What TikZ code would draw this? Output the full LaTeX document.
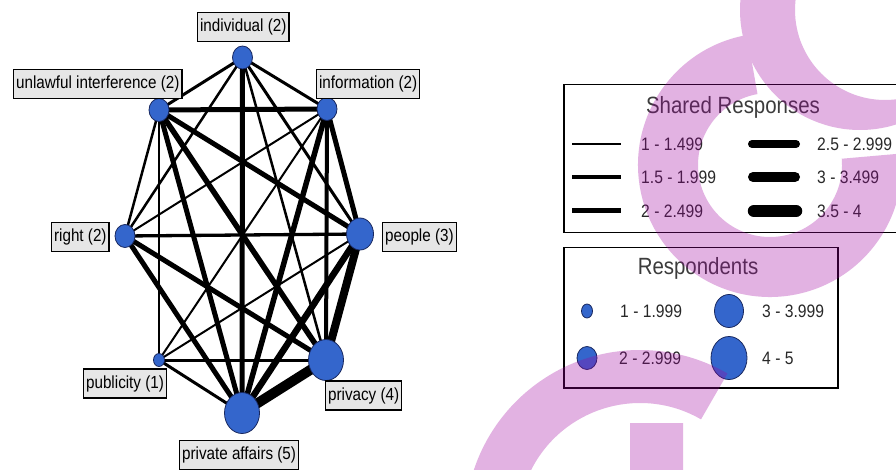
\documentclass[tikz,border=0pt]{standalone}
\usepackage{fontspec}
\setmainfont{Liberation Sans}[FakeStretch=0.87]
\usetikzlibrary{shapes.geometric}
\pgfdeclarelayer{edges}
\pgfsetlayers{edges,main}
\definecolor{nodeblue}{RGB}{52,102,204}
\definecolor{nodeedge}{RGB}{25,40,95}
\definecolor{labelfill}{RGB}{230,230,230}
\definecolor{titlegray}{RGB}{60,60,60}
\definecolor{legtext}{RGB}{40,40,40}
\definecolor{wmcolor}{RGB}{160,0,160}
\tikzset{
  lbl/.style={draw=black, line width=1.2pt, fill=labelfill, anchor=west,
    font=\fontsize{17.5}{20}\selectfont, inner xsep=2.5pt, inner ysep=0pt,
    minimum height=29pt},
  vtx/.style={ellipse, draw=nodeedge, line width=0.8pt, fill=nodeblue, inner sep=0pt},
  v1/.style={vtx, minimum width=11pt, minimum height=13pt},
  v2/.style={vtx, minimum width=20pt, minimum height=23pt},
  v3/.style={vtx, minimum width=27pt, minimum height=32pt},
  v4/.style={vtx, minimum width=35pt, minimum height=41pt},
  legbox/.style={draw=black, line width=1.5pt, anchor=north west, inner sep=0pt},
  legtitle/.style={font=\fontsize{23.5}{26}\selectfont, text=titlegray, inner sep=0pt},
  legtxt/.style={font=\fontsize{18}{20}\selectfont, text=legtext, anchor=west, inner sep=0pt},
  tie/.style={draw=black, line width=#1},
}
\begin{document}
\begin{tikzpicture}[x=1pt,y=-1pt]
\useasboundingbox (0,0) rectangle (896,470);

% ---- network vertices ----
\node[v2] (ind) at (242.5,57.5) {};
\node[v2] (unl) at (159,110) {};
\node[v2] (inf) at (327,109) {};
\node[v2] (rgt) at (125,236) {};
\node[v3] (ppl) at (360,234) {};
\node[v1] (pub) at (159,360) {};
\node[v4] (prv) at (326,360) {};
\node[v4] (aff) at (242,413) {};

% ---- ties, weighted by shared responses ----
\begin{pgfonlayer}{edges}
\fill[white] (0,0) rectangle (896,470);
\draw[tie=3pt]   (ind.center) -- (unl.center);
\draw[tie=3pt]   (ind.center) -- (inf.center);
\draw[tie=2.5pt] (ind.center) -- (rgt.center);
\draw[tie=3pt]   (ind.center) -- (ppl.center);
\draw[tie=2.5pt] (ind.center) -- (prv.center);
\draw[tie=5pt]   (ind.center) -- (aff.center);
\draw[tie=5pt]   (unl.center) -- (inf.center);
\draw[tie=2.5pt] (unl.center) -- (rgt.center);
\draw[tie=2.5pt] (unl.center) -- (pub.center);
\draw[tie=5pt]   (unl.center) -- (aff.center);
\draw[tie=5.5pt] (unl.center) -- (prv.center);
\draw[tie=5pt]   (unl.center) -- (ppl.center);
\draw[tie=2pt]   (inf.center) -- (rgt.center);
\draw[tie=2pt]   (inf.center) -- (pub.center);
\draw[tie=5.5pt] (inf.center) -- (aff.center);
\draw[tie=4pt]   (inf.center) -- (prv.center);
\draw[tie=5pt]   (inf.center) -- (ppl.center);
\draw[tie=3.3pt] (rgt.center) -- (ppl.center);
\draw[tie=5pt]   (rgt.center) -- (prv.center);
\draw[tie=5pt]   (rgt.center) -- (aff.center);
\draw[tie=2pt]   (ppl.center) -- (pub.center);
\draw[tie=8pt]   (ppl.center) -- (prv.center);
\draw[tie=6.5pt] (ppl.center) -- (aff.center);
\draw[tie=3pt]   (pub.center) -- (prv.center);
\draw[tie=3pt]   (pub.center) -- (aff.center);
\draw[tie=10pt]  (prv.center) -- (aff.center);
\end{pgfonlayer}

% ---- vertex labels ----
\node[lbl] (lind) at (197,27)   {individual (2)};
\node[lbl] (lunl) at (13,84)    {unlawful interference (2)};
\node[lbl] (linf) at (316,84)   {information (2)};
\node[lbl] (lrgt) at (51,237)   {right (2)};
\node[lbl] (lppl) at (382,237)  {people (3)};
\node[lbl] (lpub) at (83,383.5) {publicity (1)};
\node[lbl] (lprv) at (325,395.5){privacy (4)};
\node[lbl] (laff) at (179,455)  {private affairs (5)};

% ---- legend: shared responses ----
\node[legbox, minimum width=360pt, minimum height=148pt] (sharedbox) at (563,84) {};
\node[legtitle] (sharedtitle) at (733,107) {Shared Responses};
\draw[line width=2.3pt] (572,144) -- (621,144);
\draw[line width=3.5pt] (572,177) -- (621,177);
\draw[line width=5pt]   (572,211) -- (621,211);
\draw[line width=8pt,  line cap=round] (752,144) -- (796,144);
\draw[line width=10pt, line cap=round] (753,177) -- (795,177);
\draw[line width=12.5pt, line cap=round] (754,211) -- (796,211);
\node[legtxt] (s1) at (641,144) {1 - 1.499};
\node[legtxt] (s2) at (641,177) {1.5 - 1.999};
\node[legtxt] (s3) at (641,211) {2 - 2.499};
\node[legtxt] (s4) at (817,144) {2.5 - 2.999};
\node[legtxt] (s5) at (817,177) {3 - 3.499};
\node[legtxt] (s6) at (817,211) {3.5 - 4};

% ---- legend: respondents ----
\node[legbox, minimum width=274pt, minimum height=140pt] (respbox) at (563,247) {};
\node[legtitle] (resptitle) at (698,268) {Respondents};
\node[vtx, minimum width=11pt, minimum height=14pt] (r1) at (587,311) {};
\node[vtx, minimum width=20pt, minimum height=23pt] (r2) at (587,358) {};
\node[vtx, minimum width=29pt, minimum height=33pt] (r3) at (729,311) {};
\node[vtx, minimum width=36pt, minimum height=43pt] (r4) at (729,358) {};
\node[legtxt] (t1) at (620,311) {1 - 1.999};
\node[legtxt] (t2) at (619,358) {2 - 2.999};
\node[legtxt] (t3) at (762,311) {3 - 3.999};
\node[legtxt] (t4) at (762,358) {4 - 5};

% ---- translucent logo stamped over the legend side ----
\begin{scope}[transparency group, opacity=0.3]
  % ring in the top right corner
  \fill[wmcolor, even odd rule] (860,10) circle[radius=120] (885,10) circle[radius=90];
  % large open bowl (local axes point up, angles counter-clockwise)
  \begin{scope}[shift={(770,165)}, x=1pt, y=1pt]
    \fill[wmcolor] (100:132) arc[start angle=100, end angle=365, radius=132]
      -- (365:72) arc[start angle=365, end angle=100, radius=72] -- cycle;
  \end{scope}
  % lower arch
  \begin{scope}[shift={(640,525)}, x=1pt, y=1pt]
    \fill[wmcolor] (180:175) arc[start angle=180, end angle=60, radius=175]
      -- (60:122) arc[start angle=60, end angle=180, radius=122] -- cycle;
  \end{scope}
  \fill[wmcolor] (630,423) rectangle (683,475);
\end{scope}
\end{tikzpicture}
\end{document}
